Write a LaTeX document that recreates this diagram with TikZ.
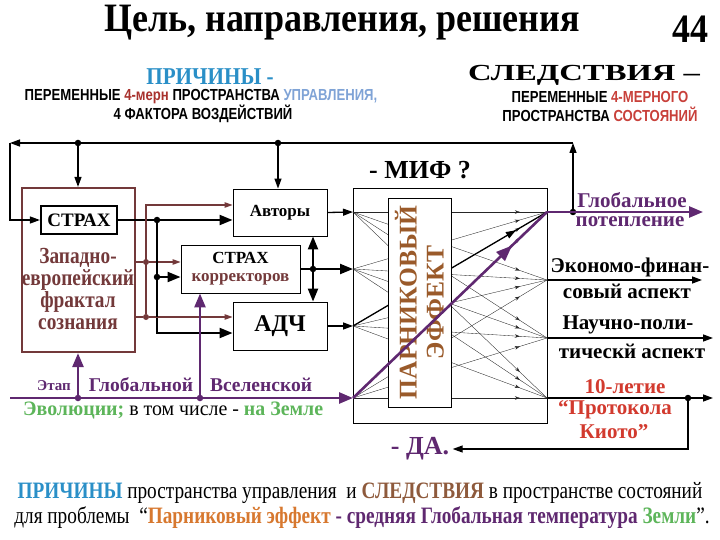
\documentclass[tikz,border=0pt]{standalone}
\usepackage{fontspec}
\usepackage{graphicx}
\setmainfont{Liberation Serif}
\newfontfamily\hdrfont{Liberation Sans}
\usetikzlibrary{arrows,arrows.meta,calc,decorations.markings,positioning}
\definecolor{causeblue}{HTML}{2A8FC7}
\definecolor{paleblue}{HTML}{7FA3D6}
\definecolor{darkred}{HTML}{A8322E}
\definecolor{stateRed}{HTML}{C8403A}
\definecolor{frbrown}{HTML}{73393A}
\definecolor{evpurple}{HTML}{5F2870}
\definecolor{evgreen}{HTML}{5DB55A}
\definecolor{grorange}{HTML}{9A5A2A}
\definecolor{kyotored}{HTML}{D23A2E}
\definecolor{slbrown}{HTML}{8E5A3C}
\definecolor{effOrange}{HTML}{D7782F}
\newcommand{\narrow}[1]{\scalebox{0.82}[1]{#1}}
\tikzset{%
	block/.style     = {draw, rectangle, line width=0.9pt, fill=white, text centered, font=\fontsize{17}{18}\selectfont\bfseries},
	zapbox/.style    = {draw=frbrown, rectangle, line width=2.2pt},
	hdr/.style       = {inner sep=0pt, font=\hdrfont\bfseries\fontsize{16}{17}\selectfont},
	outtxt/.style    = {inner sep=0pt, font=\fontsize{21}{22}\selectfont\bfseries},
	dot/.style       = {circle, fill, inner sep=0pt, minimum size=6.5pt},
	bdot/.style      = {dot, fill=frbrown, minimum size=6pt},
	pdot/.style      = {dot, fill=evpurple},
	bigarrow/.style  = {line width=2.2pt, -{Triangle[length=13pt,width=10pt]}},
	medarrow/.style  = {line width=1.3pt, -{Triangle[length=10pt,width=7pt]}},
	brownarrow/.style= {line width=1.1pt, draw=frbrown, -{Triangle[length=8pt,width=5.5pt]}},
	purplearrow/.style = {line width=2.6pt, draw=evpurple, -{Triangle[length=14pt,width=11pt]}},
	fan/.style       = {line width=0.35pt, draw=black!85,
		decoration={markings, mark=at position 0.86 with {\arrow{Stealth[length=5pt,width=3.5pt]}}}, postaction={decorate}},
}
\begin{document}
\begin{tikzpicture}[x=1pt,y=-1pt]
	\useasboundingbox (0,0) rectangle (720,540);
	% title
	\node[font=\fontsize{36}{38}\selectfont\bfseries] (title) at (342,23) {\scalebox{1}[1.12]{Цель, направления, решения}};
	\node[font=\fontsize{36}{38}\selectfont\bfseries] (num) at (690,29) {\scalebox{1}[1.12]{44}};
	% causes and consequences
	\node[font=\fontsize{23}{24}\selectfont\bfseries, text=causeblue] (prich) at (210,77) {\scalebox{0.92}[1.05]{ПРИЧИНЫ -}};
	\node[hdr] (prich1) at (201,97) {\narrow{ПЕРЕМЕННЫЕ \textcolor{darkred}{4-мерн} ПРОСТРАНСТВА \textcolor{paleblue}{УПРАВЛЕНИЯ,}}};
	\node[hdr] (prich2) at (203,114) {\narrow{4 ФАКТОРА ВОЗДЕЙСТВИЙ}};
	\node[font=\fontsize{23}{24}\selectfont\bfseries] (sled) at (584,75) {\scalebox{1.42}[1]{СЛЕДСТВИЯ –}};
	\node[hdr] (sled1) at (600,97) {\narrow{ПЕРЕМЕННЫЕ \textcolor{stateRed}{4-МЕРНОГО}}};
	\node[hdr] (sled2) at (600,114) {\narrow{ПРОСТРАНСТВА \textcolor{stateRed}{СОСТОЯНИЙ}}};
	% control blocks
	\node[zapbox, minimum width=113pt, minimum height=164pt] (zapad) at (78.5,270) {};
	\node[block, line width=2.2pt, minimum width=76pt, minimum height=28pt, font=\fontsize{19}{20}\selectfont\bfseries] (strah) at (79,220) {СТРАХ};
	\node[align=center, text=frbrown, font=\fontsize{23}{22}\selectfont\bfseries] (zaptxt) at (78,289) {\scalebox{0.84}[1]{Западно-}\\\scalebox{0.84}[1]{европейский}\\\scalebox{0.84}[1]{фрактал}\\\scalebox{0.84}[1]{сознания}};
	\node[block, minimum width=94pt, minimum height=47pt] (avt) at (280,212.5) {Авторы};
	\node[block, minimum width=119pt, minimum height=48pt, align=center] (korr) at (240.5,269) {СТРАХ\\\textcolor{frbrown}{корректоров}};
	\node[block, minimum width=94pt, minimum height=48pt, font=\fontsize{24}{25}\selectfont\bfseries] (adch) at (280,326) {АДЧ};
	% greenhouse box
	\node[draw, line width=0.9pt, minimum width=194pt, minimum height=235pt] (effbox) at (450,305.5) {};
	\node[font=\fontsize{26}{27}\selectfont\bfseries] (mif) at (420,170) {- МИФ ?};
	\coordinate (I1) at (353,212);
	\coordinate (I2) at (353,269);
	\coordinate (I3) at (353,326);
	\coordinate (I4) at (353,398);
	\coordinate (O1) at (547,212);
	\coordinate (O2) at (547,280);
	\coordinate (O3) at (547,338);
	\coordinate (O4) at (547,398);
	\foreach \i in {1,...,4}
		\foreach \j in {1,...,4}
			\draw[fan] (I\i) -- (O\j);
	\draw[line width=1.3pt, decoration={markings, mark=at position 0.84 with {\arrow{Triangle[length=10pt,width=7pt]}}}, postaction={decorate}] (I3) -- (O1);
	\node[draw, line width=0.9pt, fill=white, rotate=90, minimum width=209pt, minimum height=63pt, align=center, text=grorange, font=\fontsize{25.5}{27}\selectfont\bfseries] (parn) at (419.5,302.5) {ПАРНИКОВЫЙ\\ЭФФЕКТ};
	\draw[line width=2.6pt, draw=evpurple, decoration={markings, mark=at position 0.82 with {\arrow{Triangle[length=16pt,width=12pt]}}}, postaction={decorate}] (I4) -- (O1);
	% feedback loop
	\coordinate (fbR) at (573,143);
	\coordinate (fbL) at (10,143);
	\node[dot] (gdot) at (573,212) {};
	\node[dot] (tz) at (78,143) {};
	\node[dot] (ta) at (278,143) {};
	\draw[medarrow] (gdot) -- (fbR);
	\draw[medarrow] (fbR) -- (fbL);
	\draw[medarrow] (fbL) |- (strah.west);
	\draw[medarrow] (tz) -- (tz |- zapad.north);
	\draw[medarrow] (ta) -- (ta |- avt.north);
	% fear lines
	\node[dot] (sdot) at (157,220) {};
	\node[dot] (kdot) at (157,277) {};
	\draw[bigarrow] (strah.east) -- (strah.east -| avt.west);
	\draw[bigarrow] (sdot) |- ($(adch.west)+(0,7)$);
	\draw[bigarrow] (kdot) -- (kdot -| korr.west);
	% fractal lines
	\coordinate (bTop) at (146,205);
	\node[bdot] (bd1) at (146,262) {};
	\node[bdot] (bd2) at (146,317) {};
	\draw[line width=1.1pt, draw=frbrown] (zapad.east |- bd1) -- (bd1);
	\draw[line width=1.1pt, draw=frbrown] (zapad.east |- bd2) -- (bd2);
	\draw[brownarrow] (bd1) -- (bd1 -| korr.west);
	\draw[brownarrow] (bd2) -- (bd2 -| adch.west);
	\draw[brownarrow] (bd2) -- (bTop) -- (bTop -| avt.west);
	\draw[line width=2.2pt] (sdot) -- (sdot |- bd2);
	% into the greenhouse box
	\node[dot] (rdot) at (313,269) {};
	\draw[bigarrow] (korr.east) -- (I2);
	\draw[bigarrow] (rdot) -- (rdot |- avt.south);
	\draw[bigarrow] (rdot) -- (rdot |- adch.north);
	\draw[medarrow] (avt.east) -- (I1);
	\draw[medarrow] (adch.east) -- (I3);
	% evolution
	\coordinate (pL) at (10,398);
	\node[pdot] (pd1) at (78,398) {};
	\node[pdot] (pd2) at (200,398) {};
	\draw[purplearrow] (pL) -- (I4);
	\draw[purplearrow] (pd1) -- (pd1 |- zapad.south);
	\draw[purplearrow] (pd2) -- (pd2 |- korr.south);
	\node[inner sep=0pt, text=evpurple, font=\fontsize{15}{16}\selectfont\bfseries] (etap) at (54,386) {Этап};
	\node[inner sep=0pt, text=evpurple, font=\fontsize{19.5}{20}\selectfont\bfseries] (glob) at (141,385) {Глобальной};
	\node[inner sep=0pt, text=evpurple, font=\fontsize{19.5}{20}\selectfont\bfseries] (vsel) at (261,385) {Вселенской};
	\node[inner sep=0pt, font=\fontsize{20.5}{21}\selectfont, anchor=west] (evol) at (23,410) {\scalebox{0.97}[1]{\textcolor{evgreen}{\bfseries Эволюции;} в том числе - \textcolor{evgreen}{\bfseries на Земле}}};
	% consequences
	\coordinate (E1) at (703,212);
	\coordinate (E2) at (702,280);
	\coordinate (E3) at (713,338);
	\coordinate (E4) at (713,398);
	\draw[purplearrow] (O1) -- (E1);
	\draw[medarrow] (O2) -- (E2);
	\draw[medarrow] (O3) -- (E3);
	\draw[medarrow] (O4) -- (E4);
	\node[dot] (kyo) at (688,398) {};
	\node[font=\fontsize{26}{27}\selectfont\bfseries, text=evpurple] (da) at (420,449) {- ДА.};
	\draw[medarrow] (kyo) |- (da.east);
	\node[outtxt, text=evpurple] (gl1) at (632,200) {Глобальное};
	\node[outtxt, text=evpurple] (gl2) at (630,222) {потепление};
	\node[outtxt] (ek1) at (630,267) {Экономо-финан-};
	\node[outtxt] (ek2) at (627,291) {совый аспект};
	\node[outtxt] (nau1) at (628,325) {Научно-поли-};
	\node[outtxt] (nau2) at (632,351) {тическй аспект};
	\node[outtxt, text=kyotored] (ky1) at (625,387) {10-летие};
	\node[outtxt, text=kyotored] (ky2) at (615,410) {“Протокола};
	\node[outtxt, text=kyotored] (ky3) at (614,432) {Киото”};
	% bottom caption
	\node[inner sep=0pt, font=\fontsize{23.5}{24}\selectfont] (cap1) at (360,493) {\narrow{\textcolor{causeblue}{\bfseries ПРИЧИНЫ} пространства управления\ \ и \textcolor{slbrown}{\bfseries СЛЕДСТВИЯ} в пространстве состояний}};
	\node[inner sep=0pt, font=\fontsize{23.5}{24}\selectfont] (cap2) at (362,518) {\narrow{для проблемы\ \ “\textcolor{effOrange}{\bfseries Парниковый эффект} \textcolor{evpurple}{\bfseries - средняя Глобальная температура} \textcolor{evgreen}{\bfseries Земли}”.}};
\end{tikzpicture}
\end{document}
